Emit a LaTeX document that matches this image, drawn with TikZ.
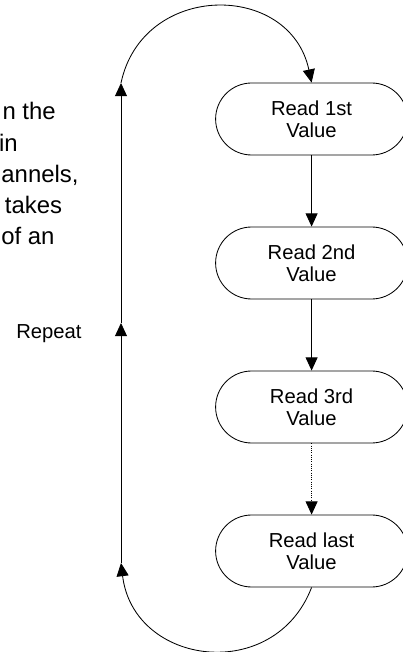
\documentclass[tikz,border=0pt]{standalone}
\usepackage{fontspec}
\setmainfont{Liberation Sans}
\usetikzlibrary{arrows.meta}

\begin{document}
\begin{tikzpicture}[
  readbox/.style={draw,line width=0.6pt,rectangle,rounded corners=0.9cm,minimum width=4.8cm,minimum height=1.8cm,align=center,font=\fontsize{14.4}{15.6}\selectfont},
  flow/.style={-{Triangle[width=0.3cm,length=0.33cm]},line width=0.6pt},
  para/.style={anchor=base east,inner sep=0pt,font=\fontsize{17}{21}\selectfont}]
\useasboundingbox (0,0) rectangle (10.075,16.3);
\clip (0,0) rectangle (10.075,16.3);
% text cut at the left border
\node[para] (p1) at (1.4,13.3) {n the};
\node[para] (p2) at (0.45,12.52) {in};
\node[para] (p3) at (1.97,11.74) {annels,};
\node[para] (p4) at (1.56,10.96) {takes};
\node[para] (p5) at (1.37,10.18) {of an};
%
\node[readbox] (r1) at (7.79,13.325) {Read 1st\\Value};
\node[readbox] (r2) at (7.79,9.725) {Read 2nd\\Value};
\node[readbox] (r3) at (7.79,6.125) {Read 3rd\\Value};
\node[readbox] (r4) at (7.79,2.525) {Read last\\Value};
\draw[flow] (r1) -- (r2);
\draw[flow] (r2) -- (r3);
\draw[flow,densely dotted] (r3) -- (r4);
%
\coordinate (ltop) at (3.025,14.225);
\coordinate (lmid) at (3.025,8.225);
\coordinate (lbot) at (3.025,2.225);
\draw[flow] (r4.south) to[out=-111,in=-83,looseness=1.38] (lbot);
\draw[flow] (lbot) -- (lmid);
\draw[flow] (lmid) -- (ltop);
\draw[flow] (ltop) to[out=78,in=102,looseness=1.39] (r1.north);
\node[font=\fontsize{14.4}{15.6}\selectfont] (rep) at (1.225,7.95) {Repeat};
\end{tikzpicture}
\end{document}
